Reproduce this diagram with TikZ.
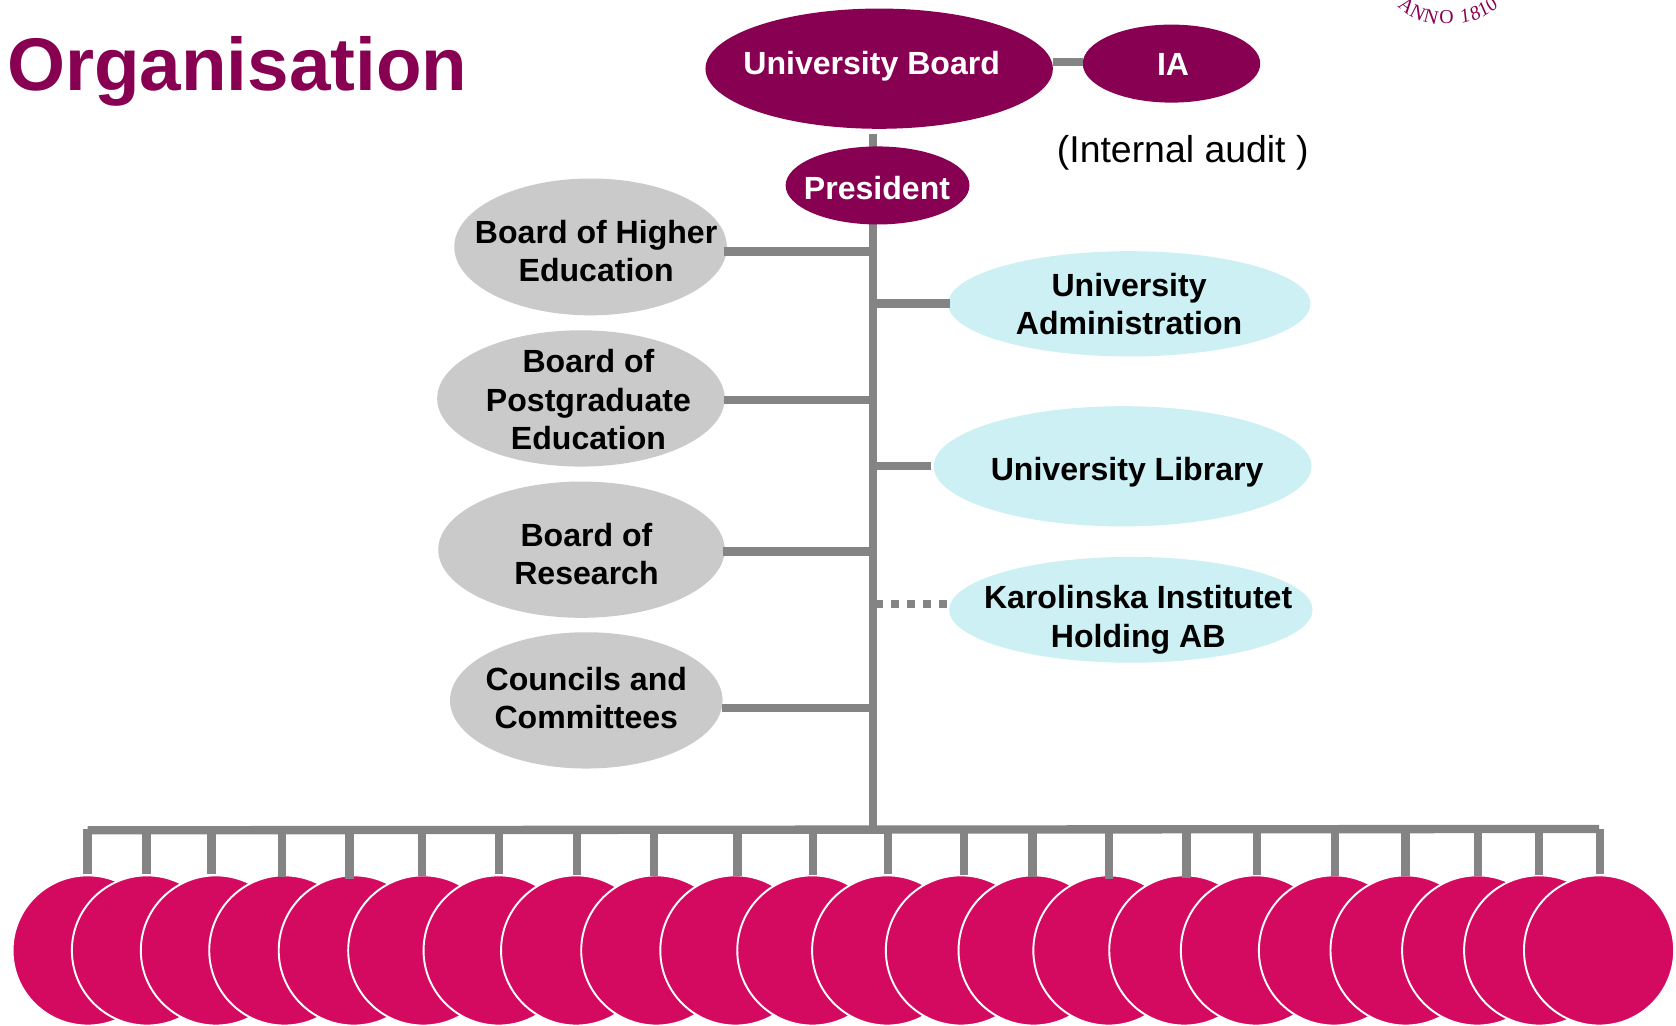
\documentclass[tikz,border=0pt]{standalone}
\usepackage{fontspec}
\setmainfont{Liberation Sans}
\newfontfamily\sealfont{Liberation Serif}
\usetikzlibrary{shapes.geometric}
\definecolor{plum}{HTML}{870052}
\definecolor{rose}{HTML}{D40A60}
\definecolor{stone}{HTML}{CACACA}
\definecolor{aqua}{HTML}{CCF0F3}
\definecolor{wire}{HTML}{848484}
\tikzset{
  x=1pt,y=-1pt,
  orgshape/.style={ellipse,inner sep=0pt,outer sep=0pt,draw=none},
  plumnode/.style={orgshape,fill=plum},
  stonenode/.style={orgshape,fill=stone},
  aquanode/.style={orgshape,fill=aqua},
  whitetext/.style={text=white,font=\fontsize{30}{36}\selectfont\bfseries,align=center,inner sep=0pt},
  blacktext/.style={text=black,font=\fontsize{30}{36}\selectfont\bfseries,align=center,inner sep=0pt},
  wireline/.style={draw=wire,line width=7.8pt,line cap=butt},
  unit/.style={circle,fill=rose,draw=white,line width=1.8pt,minimum size=140.5pt,inner sep=0pt,outer sep=0pt},
  sealglyph/.style={text=plum,inner sep=0pt,font=\sealfont\fontsize{18.5}{18.5}\selectfont},
}
% #1 name, #2 style, #3 x0, #4 x1, #5 y0, #6 y1
\newcommand\orgell[6]{%
  \node[#2,minimum width={(#4)-(#3)},minimum height={(#6)-(#5)}] (#1) at ({((#3)+(#4))/2},{((#5)+(#6))/2}) {};}
\begin{document}
\begin{tikzpicture}
\useasboundingbox (0,0) rectangle (1568,959);

% coordinates of the hierarchy
\coordinate (stubtop) at (817,125);
\coordinate (stubend) at (817,138);
\coordinate (trunktop) at (817,208);
\coordinate (trunkend) at (817,776);
\coordinate (busL) at (82,776.8);
\coordinate (busR) at (1496,775.5);

% connectors behind the ellipses
\draw[wireline] (stubtop) -- (stubend);
\draw[wireline] (trunktop) -- (trunkend);
\draw[wireline] (busL) -- (busR);

\orgell{board}{plumnode}{660}{985}{8}{120.5}
\orgell{ia}{plumnode}{1013}{1179}{23}{96}
\orgell{pres}{plumnode}{735}{907}{137}{210}
\orgell{higher}{stonenode}{425}{680}{167}{295}
\orgell{post}{stonenode}{409}{678}{309}{436.5}
\orgell{research}{stonenode}{410}{678}{450.5}{578}
\orgell{councils}{stonenode}{421}{676}{591.5}{719}
\orgell{admin}{aquanode}{887}{1226}{235}{333.5}
\orgell{library}{aquanode}{873.5}{1227}{380}{492.5}
\orgell{holding}{aquanode}{888}{1228}{521}{620}

\coordinate (jb) at (985,58);
\coordinate (jh) at (817,235.4);
\coordinate (jp) at (817,374);
\coordinate (jr) at (817,516);
\coordinate (jc) at (817,662.4);
\coordinate (ja) at (817,284);
\coordinate (jl) at (817,436);
\coordinate (jk) at (818.5,565);
\draw[wireline] (jb) -- (jb -| ia.west);
\draw[wireline] (jh) -- (677,235.4);
\draw[wireline] (jp) -- (677,374);
\draw[wireline] (jr) -- (676,516);
\draw[wireline] (jc) -- (675,662.4);
\draw[wireline] (ja) -- (889,284);
\draw[wireline] (jl) -- (871,436);
\draw[wireline,dash pattern=on 7.5pt off 7.5pt] (jk) -- (886,565);

% labels
\node[whitetext] (tboard) at (815.5,62) {University Board};
\node[whitetext] (tia) at (1097.5,60) {IA};
\node[whitetext] (tpres) at (820.5,176) {President};
\node[blacktext] (thigher) at (557.7,235) {Board of Higher\\Education};
\node[blacktext] (tpost) at (550.5,374) {Board of\\Postgraduate\\Education};
\node[blacktext] (tresearch) at (548.7,518.5) {Board of\\Research};
\node[blacktext] (tcouncils) at (548.5,653) {Councils and\\Committees};
\node[blacktext] (tadmin) at (1056.3,284.6) {University\\Administration};
\node[blacktext] (tlibrary) at (1054.5,441.5) {University Library};
\node[blacktext] (tholding) at (1064.8,580) {Karolinska Institutet\\Holding AB};
\node[text=black,font=\fontsize{35}{42}\selectfont,inner sep=0pt] (taudit) at (1106.5,143) {(Internal audit )};
\node[text=plum,font=\fontsize{69.8}{80}\selectfont\bfseries,inner sep=0pt,anchor=base west] (title) at (6.5,85) {Organisation};

% member units
\foreach \i/\cx in {1/82,2/137.5,3/202,4/266,5/331,6/396,7/466.5,8/539,9/614,10/688,11/760,12/830,13/899,14/967,15/1037,16/1108,17/1175,18/1248,19/1315,20/1382,21/1440,22/1496}{
  \node[unit] (u\i) at (\cx,889.2) {};
}
\foreach \i/\sx/\se in {1/82/817.8,2/137/817.8,3/198/817.8,4/264/820.5,5/327/822,6/395/820,7/467/817.8,8/540/818.5,9/612/820,10/690/819.5,11/760.5/819,12/831/817.7,13/902/818.5,14/966/820.6,15/1037.5/822,16/1110/821.5,17/1176/818.5,18/1249/820,19/1315/820,20/1383/819.5,21/1440/819,22/1497/817.6}{
  \coordinate (st\i) at (\sx,775.6);
  \coordinate (se\i) at (\sx,\se);
  \draw[wireline] (st\i) -- (se\i);
}

% seal fragment
\foreach \k/\g/\px/\py in {1/A/1316/5.6,2/N/1326.6/11.9,3/N/1339/15.6,4/O/1353.3/16.2,5/1/1370.5/15,6/8/1380/12.5,7/1/1387.5/8.7,8/0/1395/3.7}{
  \pgfmathsetmacro\tilt{atan((\px-1353.5)/(\py+42))}
  \ifnum\k>4
    \node[sealglyph,rotate=\tilt] (seal\k) at (\px,\py) {\itshape\g};
  \else
    \node[sealglyph,rotate=\tilt] (seal\k) at (\px,\py) {\g};
  \fi
}
\end{tikzpicture}
\end{document}
